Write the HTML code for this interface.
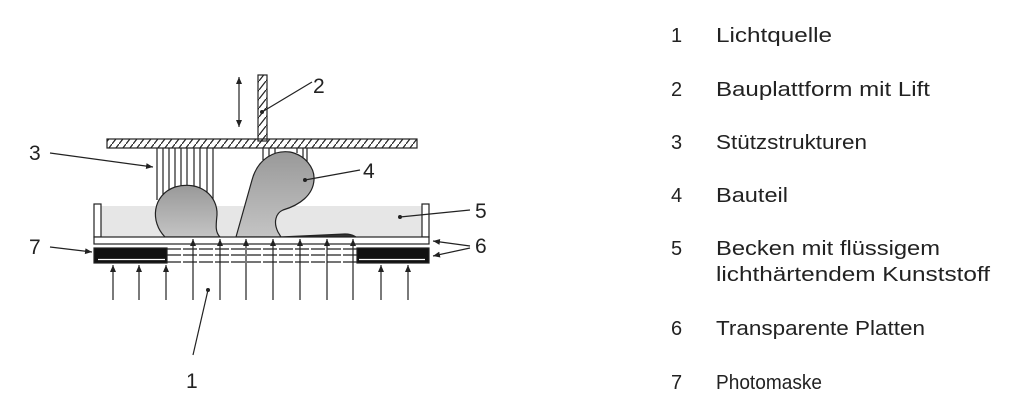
<!DOCTYPE html>
<html><head><meta charset="utf-8"><style>
html,body{margin:0;padding:0;background:#fff;}
svg{display:block}
text{font-family:"Liberation Sans",sans-serif;fill:#222;}
</style></head><body>
<svg width="1024" height="418" viewBox="0 0 1024 418" xmlns="http://www.w3.org/2000/svg">
<defs>
<pattern id="h" width="7" height="9" patternUnits="userSpaceOnUse">
<line x1="0" y1="9" x2="7" y2="0" stroke="#222" stroke-width="1.2"/>
</pattern>
<linearGradient id="g" x1="0" y1="0" x2="0" y2="1">
<stop offset="0" stop-color="#999"/><stop offset="1" stop-color="#c4c4c4"/>
</linearGradient>
<marker id="a" markerWidth="8" markerHeight="8" refX="7" refY="4" orient="auto-start-reverse" markerUnits="userSpaceOnUse">
<path d="M0,1 L7,4 L0,7 Z" fill="#222"/>
</marker>
</defs>
<g stroke="#222" fill="none" stroke-width="1.2">
<rect x="101" y="206" width="321" height="31" fill="#e6e6e6" stroke="none"/>
<g stroke-width="1.2">
<line x1="157" y1="148" x2="157" y2="200"/><line x1="163" y1="148" x2="163" y2="195"/>
<line x1="169" y1="148" x2="169" y2="190"/><line x1="175" y1="148" x2="175" y2="187"/>
<line x1="181" y1="148" x2="181" y2="186"/><line x1="187" y1="148" x2="187" y2="186"/>
<line x1="194" y1="148" x2="194" y2="188"/><line x1="200" y1="148" x2="200" y2="191"/>
<line x1="207" y1="148" x2="207" y2="195"/><line x1="213" y1="148" x2="213" y2="200"/>
<line x1="263" y1="148" x2="263" y2="160"/><line x1="269" y1="148" x2="269" y2="156"/>
<line x1="275" y1="148" x2="275" y2="153"/><line x1="297" y1="148" x2="297" y2="153"/>
<line x1="303" y1="148" x2="303" y2="158"/><line x1="307" y1="148" x2="307" y2="162"/>
</g>
<path d="M165,237 C150,222 152,195 175,187 C200,180 218,196 217,215 C216,225 215,232 220,237 Z" fill="url(#g)"/>
<path d="M236,237 L252,180 C258,158 275,150 290,152 C305,155 315,168 314,180 C313,195 300,205 283,210 C276,213 273,222 278,232 L281,237 Z" fill="url(#g)"/>
<path d="M281,237 L345,234 C352,234 354,236 356,237 Z" fill="#333"/>
<rect x="94" y="204" width="7" height="33" fill="#fff"/>
<rect x="422" y="204" width="7" height="33" fill="#fff"/>
<rect x="94" y="237" width="335" height="7" fill="#fff"/>
<line x1="167" y1="249" x2="357" y2="249" stroke-dasharray="14,2"/>
<line x1="167" y1="255" x2="357" y2="255" stroke-dasharray="14,2"/>
<line x1="167" y1="262" x2="357" y2="262" stroke-dasharray="14,2"/>
<rect x="94" y="248" width="73" height="15" fill="#111"/>
<rect x="357" y="248" width="72" height="15" fill="#111"/>
<line x1="98" y1="259.5" x2="165" y2="259.5" stroke="#fff" stroke-width="1.2"/>
<line x1="359" y1="259.5" x2="425" y2="259.5" stroke="#fff" stroke-width="1.2"/>
<rect x="258" y="75" width="9" height="66" fill="url(#h)"/>
<rect x="107" y="139" width="310" height="9" fill="url(#h)"/>
<line x1="239" y1="77" x2="239" y2="127" marker-end="url(#a)" marker-start="url(#a)"/>
<g marker-end="url(#a)">
<line x1="113" y1="300" x2="113" y2="265"/><line x1="139" y1="300" x2="139" y2="265"/>
<line x1="166" y1="300" x2="166" y2="265"/>
<line x1="193" y1="300" x2="193" y2="239"/><line x1="220" y1="300" x2="220" y2="239"/>
<line x1="246" y1="300" x2="246" y2="239"/><line x1="273" y1="300" x2="273" y2="239"/>
<line x1="300" y1="300" x2="300" y2="239"/><line x1="327" y1="300" x2="327" y2="239"/>
<line x1="353" y1="300" x2="353" y2="239"/>
<line x1="381" y1="300" x2="381" y2="265"/><line x1="408" y1="300" x2="408" y2="265"/>
</g>
<line x1="208" y1="290" x2="193" y2="355"/>
<line x1="262" y1="112" x2="312" y2="82"/>
<line x1="305" y1="180" x2="360" y2="170"/>
<line x1="400" y1="217" x2="470" y2="210"/>
<line x1="50" y1="153" x2="153" y2="167" marker-end="url(#a)"/>
<line x1="50" y1="247" x2="92" y2="252" marker-end="url(#a)"/>
<line x1="470" y1="246" x2="433" y2="241" marker-end="url(#a)"/>
<line x1="470" y1="248" x2="433" y2="256" marker-end="url(#a)"/>
</g>
<g fill="#222"><circle cx="208" cy="290" r="2"/><circle cx="262" cy="112" r="2"/><circle cx="305" cy="180" r="2"/><circle cx="400" cy="217" r="2"/></g>
<g font-size="21">
<text x="186" y="388">1</text><text x="313" y="93">2</text><text x="29" y="160">3</text>
<text x="363" y="178">4</text><text x="475" y="218">5</text><text x="475" y="253">6</text><text x="29" y="254">7</text>
</g>
<g font-size="20">
<text x="671" y="42">1</text><text x="716" y="42" textLength="116" lengthAdjust="spacingAndGlyphs">Lichtquelle</text>
<text x="671" y="96">2</text><text x="716" y="96" textLength="214" lengthAdjust="spacingAndGlyphs">Bauplattform mit Lift</text>
<text x="671" y="149">3</text><text x="716" y="149" textLength="151" lengthAdjust="spacingAndGlyphs">Stützstrukturen</text>
<text x="671" y="202">4</text><text x="716" y="202" textLength="72" lengthAdjust="spacingAndGlyphs">Bauteil</text>
<text x="671" y="255">5</text><text x="716" y="255" textLength="224" lengthAdjust="spacingAndGlyphs">Becken mit flüssigem</text>
<text x="716" y="281" textLength="274" lengthAdjust="spacingAndGlyphs">lichthärtendem Kunststoff</text>
<text x="671" y="335">6</text><text x="716" y="335" textLength="209" lengthAdjust="spacingAndGlyphs">Transparente Platten</text>
<text x="671" y="389">7</text><text x="716" y="389" textLength="106" lengthAdjust="spacingAndGlyphs">Photomaske</text>
</g>
</svg>
</body></html>
